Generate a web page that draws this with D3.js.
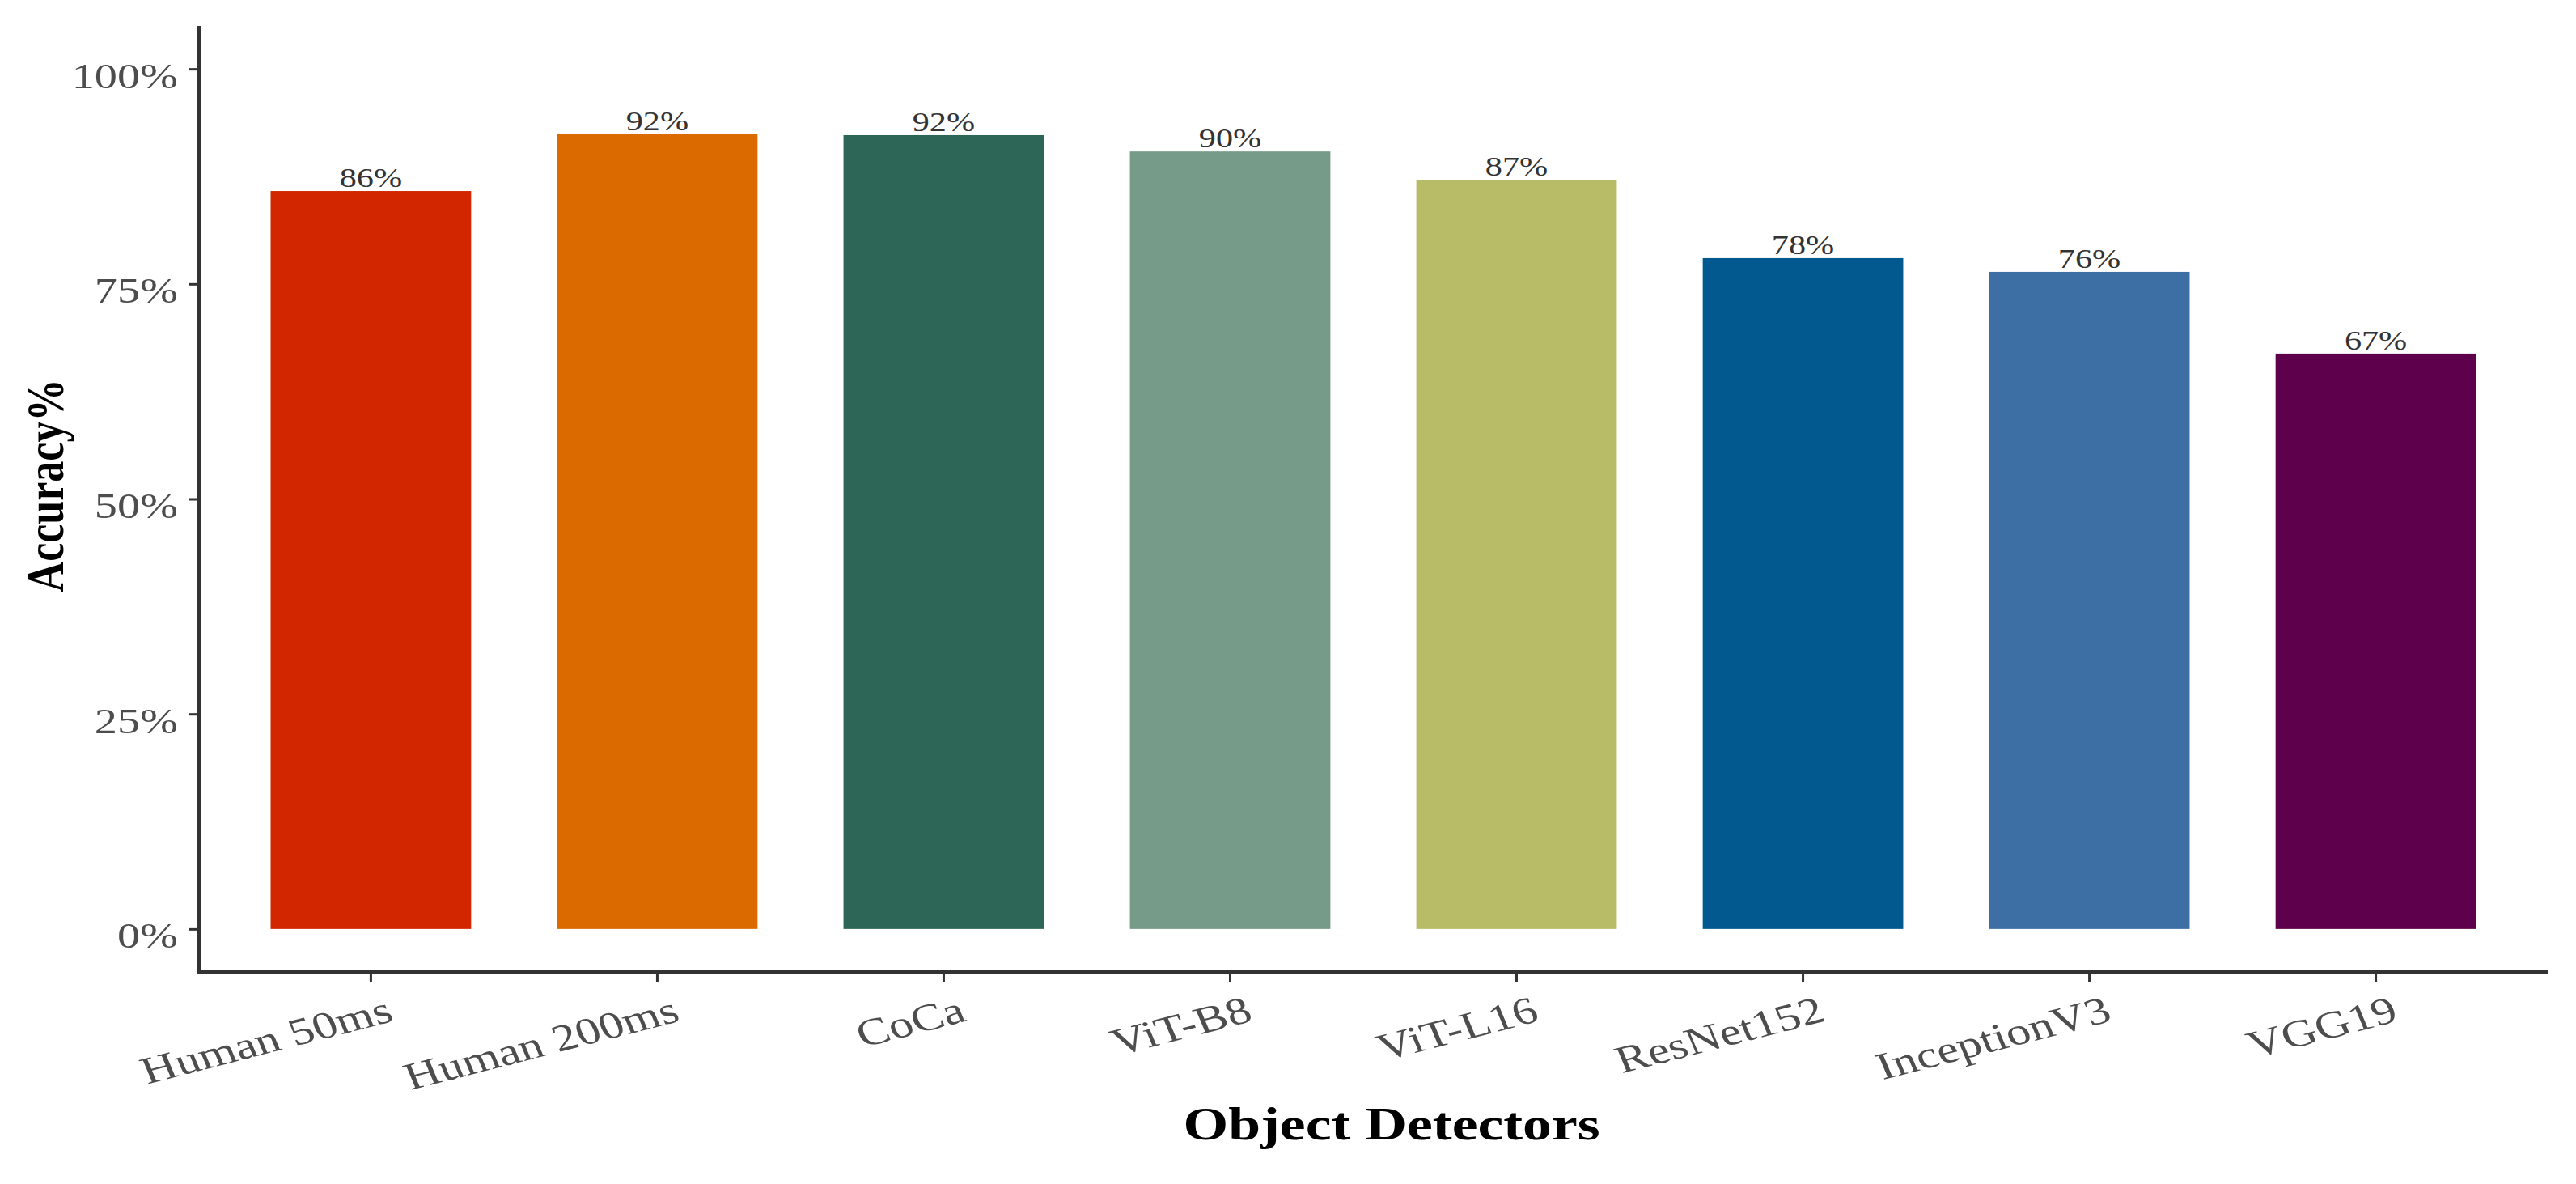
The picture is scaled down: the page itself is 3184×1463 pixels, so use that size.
<!DOCTYPE html>
<html>
<head>
<meta charset="utf-8">
<script src="https://cdn.jsdelivr.net/npm/d3@7"></script>
<style>
  html, body { margin: 0; padding: 0; background: #ffffff; }
  svg { display: block; }
</style>
</head>
<body>
<script>
// ---- Data ----
const categories = ["Human 50ms", "Human 200ms", "CoCa", "ViT-B8", "ViT-L16", "ResNet152", "InceptionV3", "VGG19"];
const accuracy = [85.8, 92.4, 92.3, 90.4, 87.1, 78.0, 76.4, 66.9];
const barColors = ["#D12600", "#DB6A00", "#2D6657", "#769C89", "#B8BC66", "#02598F", "#3D6FA5", "#5E004B"];
const yTicks = [0, 25, 50, 75, 100];
const xTitle = "Object Detectors";
const yTitle = "Accuracy%";

// ---- Layout ----
const W = 3184, H = 1463;
const panel = { left: 246, right: 3149, top: 32, bottom: 1201 };
const stretch = 1.28;
const serif = "'Liberation Serif', 'Times New Roman', serif";

const svg = d3.select("body").append("svg")
  .attr("width", W).attr("height", H)
  .attr("viewBox", `0 0 ${W} ${H}`);

const x = d3.scaleBand()
  .domain(categories)
  .range([panel.left, panel.right])
  .paddingInner(0.3)
  .paddingOuter(0.25);

const y = d3.scaleLinear()
  .domain([-5, 105])
  .range([panel.bottom, panel.top]);

const data = categories.map((c, i) => ({ cat: c, val: accuracy[i], color: barColors[i] }));

// Bars
svg.append("g").selectAll("rect")
  .data(data).join("rect")
  .attr("x", d => x(d.cat))
  .attr("width", x.bandwidth())
  .attr("y", d => y(d.val))
  .attr("height", d => y(0) - y(d.val))
  .attr("fill", d => d.color);

// Value labels
svg.append("g").selectAll("text")
  .data(data).join("text")
  .attr("transform", d => `translate(${x(d.cat) + x.bandwidth() / 2},${y(d.val) - 5}) scale(${stretch},1)`)
  .attr("text-anchor", "middle")
  .attr("font-family", serif)
  .attr("font-size", 33)
  .attr("fill", "#333333")
  .text(d => Math.round(d.val) + "%");

// Y axis
const yAxis = d3.axisLeft(y).tickValues(yTicks).tickSize(12).tickPadding(0).tickFormat(d => d + "%");
const gy = svg.append("g").attr("transform", `translate(${panel.left},0)`).call(yAxis);
gy.select(".domain").attr("d", `M0,${panel.top}V${panel.bottom}`).attr("stroke", "#333333").attr("stroke-width", 4);
gy.selectAll(".tick line").attr("stroke", "#333333").attr("stroke-width", 3);
gy.selectAll(".tick text")
  .attr("x", null).attr("dy", null)
  .attr("transform", `translate(-26,23) scale(${stretch},1)`)
  .attr("text-anchor", "end")
  .attr("font-family", serif)
  .attr("font-size", 44)
  .attr("fill", "#4D4D4D");

// X axis
const xAxis = d3.axisBottom(x).tickSize(12).tickPadding(0);
const gx = svg.append("g").attr("transform", `translate(0,${panel.bottom})`).call(xAxis);
gx.select(".domain").attr("d", `M${panel.left - 2},0H${panel.right}`).attr("stroke", "#333333").attr("stroke-width", 4);
gx.selectAll(".tick line").attr("stroke", "#333333").attr("stroke-width", 3);
gx.selectAll(".tick text")
  .attr("y", null).attr("dy", null)
  .attr("transform", `translate(30,60) scale(${stretch},1) rotate(-18.2)`)
  .attr("text-anchor", "end")
  .attr("font-family", serif)
  .attr("font-size", 47)
  .attr("fill", "#4D4D4D");

// Axis titles
svg.append("text")
  .attr("transform", `translate(1720,1408) scale(${stretch},1)`)
  .attr("text-anchor", "middle")
  .attr("font-family", serif)
  .attr("font-weight", "bold")
  .attr("font-size", 56)
  .attr("fill", "#000000")
  .text(xTitle);

svg.append("text")
  .attr("transform", `translate(78,600) scale(${stretch},1) rotate(-90)`)
  .attr("text-anchor", "middle")
  .attr("font-family", serif)
  .attr("font-weight", "bold")
  .attr("font-size", 52)
  .attr("fill", "#000000")
  .text(yTitle);
</script>
</body>
</html>
